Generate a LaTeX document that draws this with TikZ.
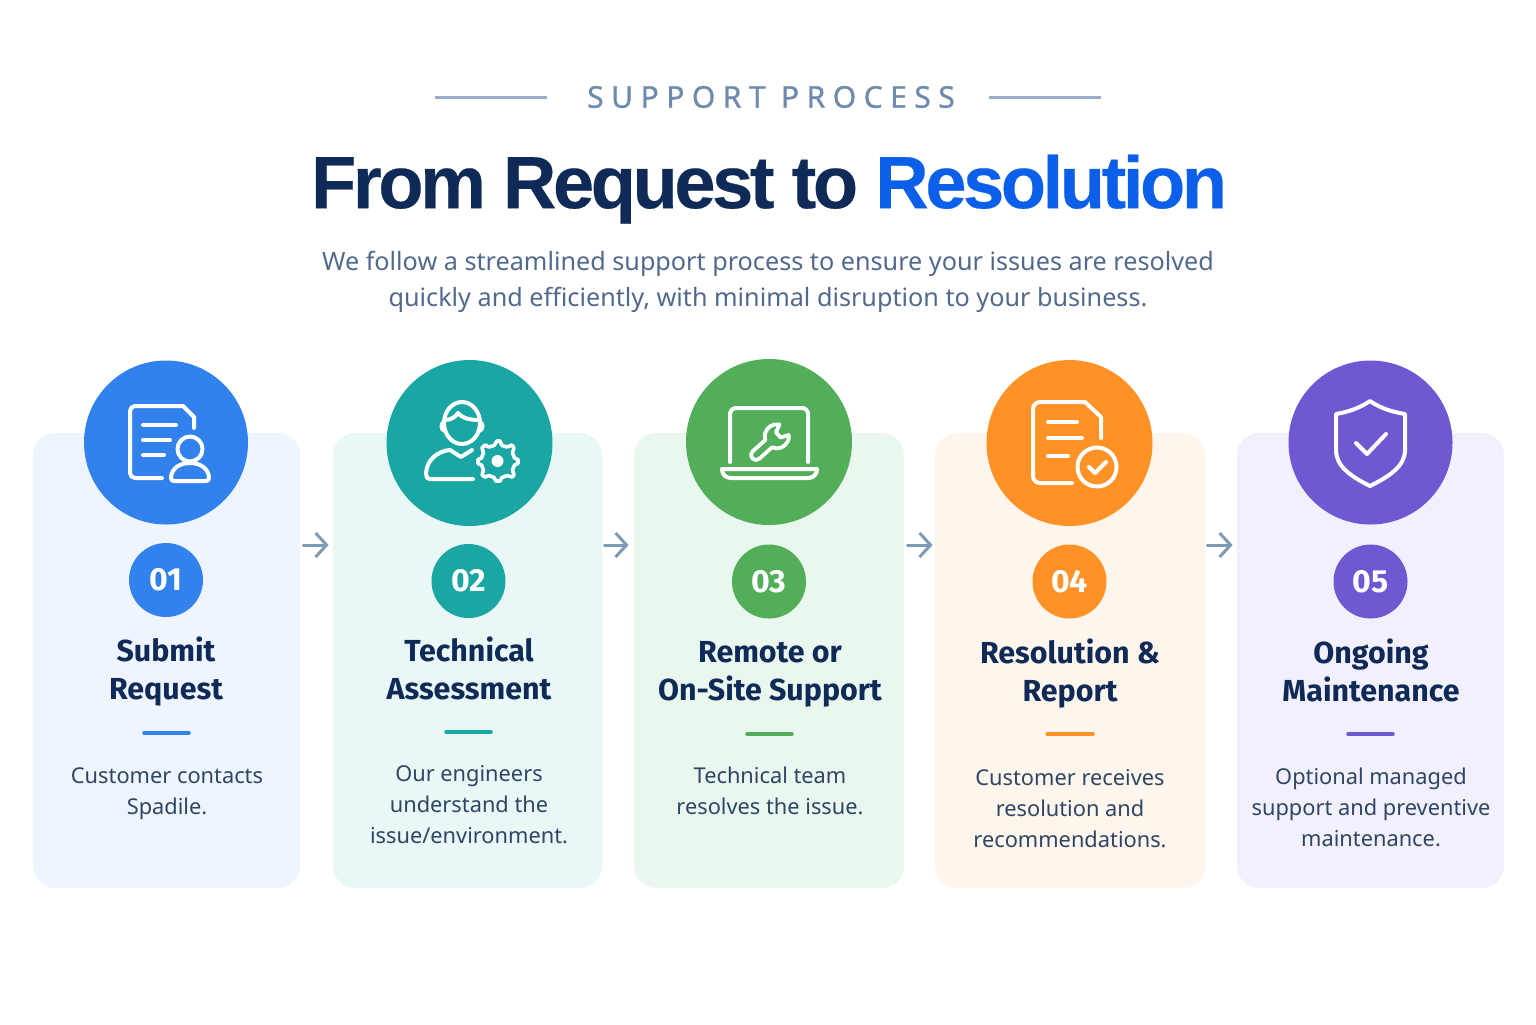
\documentclass[tikz,border=0pt]{standalone}
\usepackage{fontspec}
\setmainfont{Noto Sans}
\newfontfamily\headfont{Liberation Sans}
\newfontfamily\labelfont{Fira Sans}
\usepackage{xcolor}
\usetikzlibrary{arrows.meta}
\definecolor{navy}{HTML}{0F2A56}
\definecolor{brightblue}{HTML}{0B5FE8}
\definecolor{subtext}{HTML}{52698C}
\definecolor{eyebrow}{HTML}{6E8BAD}
\definecolor{bodytext}{HTML}{2E4563}
\definecolor{arrowc}{HTML}{7F9AB5}
\definecolor{bluec}{HTML}{3282EE}
\definecolor{tealc}{HTML}{1AA6A3}
\definecolor{greenc}{HTML}{52AE58}
\definecolor{orangec}{HTML}{FF9227}
\definecolor{purplec}{HTML}{7058D2}
\definecolor{bluel}{HTML}{EFF5FF}
\definecolor{teall}{HTML}{E9F8F7}
\definecolor{greenl}{HTML}{EAF7EE}
\definecolor{orangel}{HTML}{FEF5EC}
\definecolor{purplel}{HTML}{F2F0FD}

\begin{document}
\begin{tikzpicture}[
    x=0.5pt, y=-0.5pt,
    card/.style={rectangle, rounded corners=11pt, minimum height=227.5pt, inner sep=0pt},
    disc/.style={circle, inner sep=0pt},
    badge/.style={circle, inner sep=0pt, minimum size=37pt, text=white,
                  font=\labelfont\fontsize{16}{16}\selectfont\bfseries},
    steptitle/.style={align=center, text=navy, inner sep=0pt,
                      font=\labelfont\fontsize{15.2}{19}\selectfont\bfseries},
    stepdesc/.style={align=center, text=bodytext, inner sep=0pt,
                     font=\fontsize{10.9}{15.5}\selectfont},
    dashline/.style={line width=1.75pt, line cap=round},
    iconline/.style={draw=white, line width=2pt, line cap=round, line join=round},
    flowarrow/.style={draw=arrowc, line width=1.5pt, line cap=round,
                      -{Straight Barb[length=5.5pt, width=12pt, line width=1.5pt]}}
]
\useasboundingbox (0,0) rectangle (1536,1024);
%% Header
\node[inner sep=0pt, text=eyebrow, font=\fontsize{15}{15}\selectfont\addfontfeature{LetterSpace=25,FakeBold=1}] (eyebrow) at (771,97) {SUPPORT PROCESS};
\draw[draw=arrowc!80, line width=1.1pt] (435,97.5) -- (547,97.5);
\draw[draw=arrowc!80, line width=1.1pt] (989,97.5) -- (1101,97.5);
\node[inner sep=0pt, text=navy, font=\headfont\fontsize{37}{37}\selectfont\bfseries\addfontfeature{LetterSpace=-4.6,FakeBold=0.3}] (headline) at (769,189) {From Request to \textcolor{brightblue}{Resolution}};
\node[align=center, inner sep=0pt, text=subtext, font=\fontsize{12.6}{18}\selectfont] (lead) at (768,282) {We follow a streamlined support process to ensure your issues are resolved\\quickly and efficiently, with minimal disruption to your business.};
%% Cards
\node[card, fill=bluel, minimum width=133.5pt]   (card1) at (166.5,660.5) {};
\node[card, fill=teall, minimum width=134.5pt]   (card2) at (467.5,660.5) {};
\node[card, fill=greenl, minimum width=135pt]    (card3) at (769,660.5) {};
\node[card, fill=orangel, minimum width=135pt]   (card4) at (1070,660.5) {};
\node[card, fill=purplel, minimum width=133.5pt] (card5) at (1370.5,660.5) {};
%% Arrows between cards
\draw[flowarrow] ([shift={(3,-115.5)}]card1.east) -- ([shift={(-4,-115.5)}]card2.west);
\draw[flowarrow] ([shift={(2,-115.5)}]card2.east) -- ([shift={(-5,-115.5)}]card3.west);
\draw[flowarrow] ([shift={(3,-115.5)}]card3.east) -- ([shift={(-2,-115.5)}]card4.west);
\draw[flowarrow] ([shift={(2,-115.5)}]card4.east) -- ([shift={(-4,-115.5)}]card5.west);
%% Icon discs
\node[disc, fill=bluec, minimum size=82pt]   (disc1) at (166,442.5) {};
\node[disc, fill=tealc, minimum size=83pt]   (disc2) at (469.5,443) {};
\node[disc, fill=greenc, minimum size=83pt]  (disc3) at (769,442) {};
\node[disc, fill=orangec, minimum size=83pt] (disc4) at (1069.5,443) {};
\node[disc, fill=purplec, minimum size=82pt] (disc5) at (1370.5,442.5) {};
%% Icon 1: document with person
\draw[iconline] (162,478) -- (135,478) arc[start angle=90, end angle=180, radius=5] -- (130,411) arc[start angle=180, end angle=270, radius=5] -- (183,406) -- (194,417) -- (194,428);
\draw[iconline] (143,425) -- (176,425) (143,440) -- (170,440) (143,455) -- (164,455);
\draw[iconline] (190,449) circle[radius=12.5];
\draw[iconline] (175,481) -- (205,481) .. controls (209,481) and (209,479) .. (209,477) .. controls (208,468) and (200,463) .. (190,463) .. controls (180,463) and (172,468) .. (171,477) .. controls (171,479) and (171,481) .. (175,481);
%% Icon 2: engineer with gear
\draw[iconline] (462,423) ellipse[x radius=18, y radius=21];
\draw[iconline] (445,420) .. controls (452,420) and (456,416) .. (458,413) .. controls (463,419) and (472,420) .. (479,420);
\draw[iconline] (444,422) .. controls (440,424) and (441,430) .. (445,431) (480,422) .. controls (484,424) and (483,430) .. (479,431);
\draw[iconline] (473,479) -- (431,479) .. controls (427,479) and (426,477) .. (426,474) .. controls (426,460) and (438,451) .. (450,450) -- (461,457) -- (472,450);
\draw[iconline, line width=1.8pt] (497,441) -- (500,441) -- (502,445.5) -- (507,447) -- (512,445) -- (514,448) -- (512.5,453) -- (514.5,458) -- (518,459.5) -- (518,463.5) -- (514.5,465) -- (512.5,470) -- (514,475) -- (512,477) -- (507,475.5) -- (502,477.5) -- (500,481) -- (496,481) -- (494,477.5) -- (489,475.5) -- (485,477) -- (482,475) -- (483.5,470) -- (481.5,465) -- (478,463.5) -- (478,459.5) -- (481.5,458) -- (483.5,453) -- (482,448) -- (485,445) -- (489,447) -- (494,445.5) -- cycle;
\fill[white] (497.5,461) circle[radius=6];
%% Icon 3: laptop with wrench
\draw[iconline] (730,462) -- (730,414) arc[start angle=180, end angle=270, radius=6] -- (802,408) arc[start angle=270, end angle=360, radius=6] -- (808,462);
\draw[iconline] (722,469) -- (817,469) .. controls (817,474) and (814,478) .. (808,478) -- (731,478) .. controls (725,478) and (722,474) .. (722,469) -- cycle;
\begin{scope}[shift={(756,455)}, rotate=42]
\draw[iconline, line width=1.9pt] (0,-5) arc[start angle=270, end angle=90, radius=5] -- (17,5) arc[start angle=156, end angle=35, radius=12] -- (30,3.5) -- (30,-3.5) -- (37.8,-6.9) arc[start angle=-35, end angle=-156, radius=12] -- cycle;
\end{scope}
%% Icon 4: document with check
\draw[iconline] (1072,483) -- (1040,483) arc[start angle=90, end angle=180, radius=7] -- (1033,409) arc[start angle=180, end angle=270, radius=7] -- (1085,402) -- (1101,417) -- (1101,438);
\draw[iconline] (1048,422) -- (1077,422) (1048,438) -- (1082,438) (1048,456) -- (1068,456);
\draw[iconline] (1097,467) circle[radius=19.5];
\draw[iconline] (1089,467) -- (1095,473) -- (1106,462);
%% Icon 5: shield with check
\draw[iconline] (1370,401) .. controls (1360,408) and (1348,412) .. (1336,414) -- (1336,450) .. controls (1336,466) and (1350,476) .. (1370,486) .. controls (1390,476) and (1405,466) .. (1405,450) -- (1405,414) .. controls (1392,412) and (1380,408) .. (1370,401) -- cycle;
\draw[iconline] (1356,443) -- (1367,454) -- (1386,434);
%% Number badges
\node[badge, fill=bluec]   (num1) at (166,580) {01};
\node[badge, fill=tealc]   (num2) at (468.5,581) {02};
\node[badge, fill=greenc]  (num3) at (769,581.5) {03};
\node[badge, fill=orangec] (num4) at (1069.5,581.5) {04};
\node[badge, fill=purplec] (num5) at (1370.5,581.5) {05};
%% Step titles
\node[steptitle] (title1) at (166,672) {Submit\\Request};
\node[steptitle] (title2) at (469,668) {Technical\\Assessment};
\node[steptitle] (title3) at (770,674) {Remote or\\On-Site Support};
\node[steptitle] (title4) at (1070,674) {Resolution \&\\Report};
\node[steptitle] (title5) at (1371,670) {Ongoing\\Maintenance};
%% Short rules
\draw[dashline, draw=bluec]   (144,733) -- (189,733);
\draw[dashline, draw=tealc]   (446,732) -- (491,732);
\draw[dashline, draw=greenc]  (747,734) -- (792,734);
\draw[dashline, draw=orangec] (1047,734) -- (1093,734);
\draw[dashline, draw=purplec] (1348,734) -- (1393,734);
%% Step descriptions
\node[stepdesc] (desc1) at (167,794) {Customer contacts\\Spadile.};
\node[stepdesc] (desc2) at (469,805) {Our engineers\\understand the\\issue/environment.};
\node[stepdesc] (desc3) at (770,791) {Technical team\\resolves the issue.};
\node[stepdesc] (desc4) at (1070,809) {Customer receives\\resolution and\\recommendations.};
\node[stepdesc] (desc5) at (1371,807) {Optional managed\\support and preventive\\maintenance.};
\end{tikzpicture}
\end{document}
